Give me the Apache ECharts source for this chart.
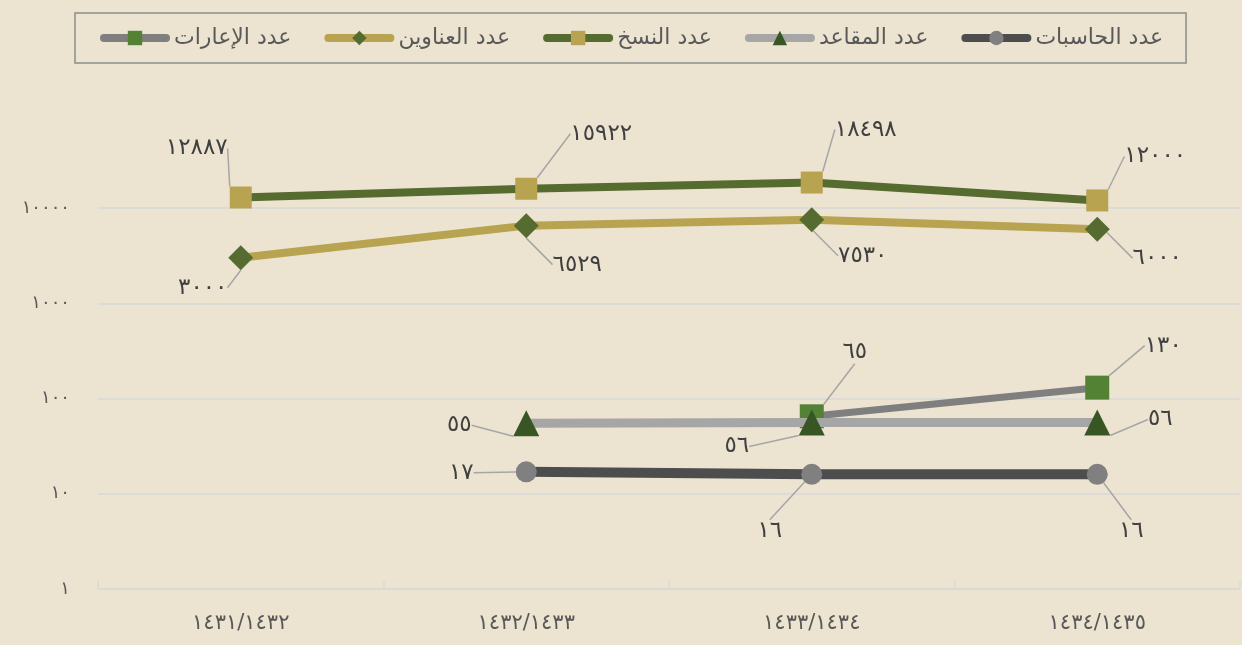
<!DOCTYPE html>
<html>
<head>
<meta charset="utf-8">
<script src="https://cdn.jsdelivr.net/npm/echarts@6/dist/echarts.min.js"></script>
<style>
html,body{margin:0;padding:0;background:#ECE4D1;}
#c{width:1242px;height:645px;}
</style>
</head>
<body>
<div id="c"></div>
<script>
const categories = ['١٤٣١/١٤٣٢', '١٤٣٢/١٤٣٣', '١٤٣٣/١٤٣٤', '١٤٣٤/١٤٣٥'];
const seriesNames = ['عدد الحاسبات', 'عدد المقاعد', 'عدد النسخ', 'عدد العناوين', 'عدد الإعارات'];
const computers = [null, 17, 16, 16];
const seats = [null, 55, 56, 56];
const copies = [12887, 15922, 18498, 12000];
const titles = [3000, 6529, 7530, 6000];
const loans = [null, null, 65, 130];
const yMin = 1, yMax = 10000;

const AR = '٠١٢٣٤٥٦٧٨٩';
const toAr = v => String(v).replace(/\d/g, d => AR[d]);
const FONT = 'DejaVu Sans';

// label offsets (style) per series, per point
const labelOffsets = {
  'عدد النسخ':    [[-44, -49], [75, -55], [54, -53], [58, -44]],
  'عدد العناوين': [[-38, 30], [51, 39], [51, 36], [60, 29]],
  'عدد الإعارات': [null, null, [43, -64], [66, -42]],
  'عدد المقاعد':  [null, [-67, 2], [-75, 24], [63, -3]],
  'عدد الحاسبات': [null, [-65, 1], [-42, 57], [34, 57]]
};

function mk(name, data, lineColor, lineWidth, symbol, symbolSize, symColor, z) {
  return {
    name, type: 'line', data, z,
    clip: false,
    connectNulls: false,
    symbol, symbolSize,
    showAllSymbol: true,
    lineStyle: { color: lineColor, width: lineWidth, cap: 'round' },
    itemStyle: { color: symColor, borderWidth: 0 },
    label: {
      show: true, position: 'inside',
      formatter: p => toAr(p.value),
      color: '#404040', fontFamily: FONT, fontSize: 23
    },
    labelLine: { show: true, lineStyle: { color: '#A6A6A6', width: 1.5 } },
    labelLayout: p => {
      const o = labelOffsets[name][p.dataIndex];
      return o ? { dx: o[0], dy: o[1] } : {};
    },
    emphasis: { disabled: true },
    animation: false
  };
}

const chart = echarts.init(document.getElementById('c'), null, { renderer: 'canvas' });
chart.setOption({
  backgroundColor: '#ECE4D1',
  animation: false,
  legend: {
    data: [seriesNames[4], seriesNames[3], seriesNames[2], seriesNames[1], seriesNames[0]],
    left: 75, top: 13,
    padding: [14, 23, 14, 25],
    itemGap: 33,
    itemWidth: 62, itemHeight: 18,
    borderColor: '#8C8C8C', borderWidth: 1.5,
    lineStyle: { width: 8, cap: 'round' },
    textStyle: { color: '#595959', fontFamily: FONT, fontSize: 22, padding: [0, 0, 0, 3] },
    selectedMode: false
  },
  grid: { left: 98, right: 2, top: 208, bottom: 56, containLabel: false },
  xAxis: {
    type: 'category', data: categories, boundaryGap: true,
    axisLine: { show: true, lineStyle: { color: '#D9D9D9', width: 1.5 } },
    axisTick: { show: true, inside: true, length: 8, lineStyle: { color: '#D9D9D9', width: 1.5 } },
    axisLabel: { color: '#595959', fontFamily: FONT, fontSize: 21, margin: 24 },
    splitLine: { show: false }
  },
  yAxis: {
    type: 'log', logBase: 10, min: yMin, max: yMax,
    axisLine: { show: false }, axisTick: { show: false },
    axisLabel: { color: '#595959', fontFamily: FONT, fontSize: 18, margin: 28, formatter: v => toAr(v) },
    splitLine: { show: true, lineStyle: { color: '#D9D9D9', width: 1.5 } }
  },
  series: [
    mk(seriesNames[4], loans, '#7F7F7F', 7, 'rect', 24, '#548235', 2),
    mk(seriesNames[3], titles, '#B8A351', 8, 'diamond', 25, '#556B2F', 3),
    mk(seriesNames[2], copies, '#556B2F', 8, 'rect', 22, '#B8A351', 4),
    mk(seriesNames[1], seats, '#A6A6A6', 9, 'triangle', 26, '#375623', 5),
    mk(seriesNames[0], computers, '#4D4D4D', 10, 'circle', 21, '#808080', 6)
  ]
});
</script>
</body>
</html>
